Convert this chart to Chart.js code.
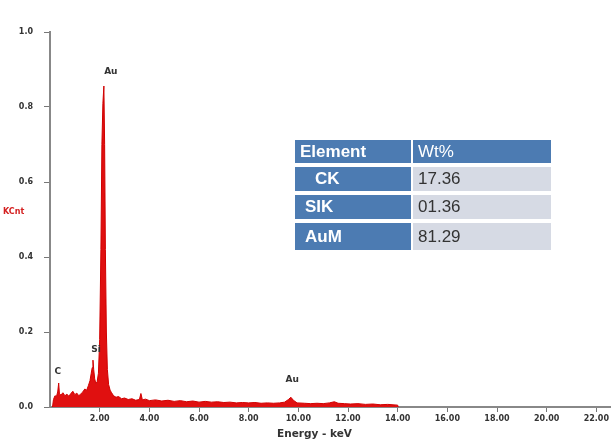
<!DOCTYPE html>
<html lang="en">
<head>
  <meta charset="UTF-8">
  <title>EDS spectrum</title>
  <script src="https://cdn.jsdelivr.net/npm/chart.js"></script>
  <style>
    body { margin: 0; background: #fff; }
    #wrap { position: relative; width: 611px; height: 441px; }
    #tbl { position: absolute; left: 295px; top: 140px; font-family: "Liberation Sans", Arial, sans-serif; font-size: 17px; }
    .row { display: flex; margin-bottom: 4px; }
    .el { width: 116px; background: #4c7bb2; color: #fff; font-weight: bold; padding-left: 5px; box-sizing: border-box; }
    .wt { width: 138px; margin-left: 2px; background: #d6dae4; color: #333; padding-left: 5px; box-sizing: border-box; }
    .head .wt { background: #4c7bb2; color: #fff; font-weight: normal; }
  </style>
</head>
<body>
<div id="wrap">
  <canvas id="eds" width="611" height="441"></canvas>
  <div id="tbl"></div>
</div>
<script>
// spectrum (keV, KCnt)
const energy = [0.10, 0.14, 0.20, 0.26, 0.31, 0.35, 0.38, 0.44, 0.52, 0.60, 0.68, 0.76, 0.84, 0.92, 1.00,
  1.08, 1.16, 1.24, 1.32, 1.40, 1.48, 1.55, 1.61, 1.66, 1.70, 1.73, 1.76, 1.80, 1.85, 1.90, 1.95,
  2.00, 2.05, 2.09, 2.13, 2.17, 2.20, 2.23, 2.27, 2.31, 2.36, 2.42, 2.48, 2.56, 2.66, 2.76, 2.88,
  3.00, 3.15, 3.30, 3.45, 3.60, 3.66, 3.72, 3.85, 4.00, 4.25, 4.50, 4.75, 5.00, 5.25, 5.50, 5.75,
  6.00, 6.25, 6.50, 6.75, 7.00, 7.25, 7.50, 7.75, 8.00, 8.25, 8.50, 8.75, 9.00, 9.25, 9.45, 9.60,
  9.70, 9.80, 9.95, 10.25, 10.50, 10.75, 11.00, 11.25, 11.45, 11.60, 11.85, 12.10, 12.40, 12.70,
  13.00, 13.30, 13.60, 14.00, 14.02];
const kcnt = [0.000, 0.020, 0.030, 0.028, 0.040, 0.064, 0.035, 0.032, 0.038, 0.030, 0.034, 0.029, 0.036, 0.042, 0.033,
  0.037, 0.030, 0.035, 0.040, 0.048, 0.045, 0.058, 0.070, 0.090, 0.105, 0.125, 0.100, 0.075, 0.062, 0.068, 0.090,
  0.180, 0.420, 0.700, 0.810, 0.856, 0.700, 0.420, 0.200, 0.100, 0.060, 0.045, 0.038, 0.030, 0.026, 0.028, 0.022,
  0.024, 0.020, 0.022, 0.018, 0.020, 0.036, 0.019, 0.021, 0.017, 0.019, 0.016, 0.018, 0.015, 0.017, 0.014, 0.016,
  0.013, 0.015, 0.013, 0.014, 0.012, 0.013, 0.011, 0.012, 0.011, 0.012, 0.010, 0.011, 0.010, 0.011, 0.013, 0.020,
  0.026, 0.018, 0.011, 0.010, 0.009, 0.010, 0.009, 0.011, 0.014, 0.010, 0.009, 0.008, 0.009, 0.007,
  0.008, 0.006, 0.007, 0.005, 0.000];

const peakNames = ['Au', 'Si', 'C', 'Au'];
const peakX = [2.45, 1.85, 0.31, 9.75];
const peakY = [0.895, 0.152, 0.093, 0.072];

const xTicks = [2, 4, 6, 8, 10, 12, 14, 16, 18, 20, 22];

const elements = ['CK', 'SIK', 'AuM'];
const wtPct = ['17.36', '01.36', '81.29'];

// table
const tbl = document.getElementById('tbl');
let html = '<div class="row head" style="height:23px;line-height:23px"><div class="el">Element</div><div class="wt">Wt%</div></div>';
elements.forEach((e, i) => {
  html += '<div class="row" style="height:' + (i == 2 ? 27 : 24) + 'px;line-height:' + (i == 2 ? 27 : 24) +
    'px"><div class="el" style="padding-left:' + (i == 0 ? 20 : 10) + 'px">' + e + '</div><div class="wt">' + wtPct[i] + '</div></div>';
});
tbl.innerHTML = html;

const labels = {
  id: 'labels',
  afterDatasetsDraw(c) {
    const g = c.ctx, x = c.scales.x, y = c.scales.y;
    g.save();
    g.fillStyle = '#333';
    g.font = 'bold 9px "DejaVu Sans"';
    g.textAlign = 'center';
    g.textBaseline = 'middle';
    peakNames.forEach((n, i) => g.fillText(n, x.getPixelForValue(peakX[i]), y.getPixelForValue(peakY[i])));
    // x axis title sits left of centre in the original
    g.font = 'bold 10.5px "DejaVu Sans"';
    g.fillText('Energy - keV', x.getPixelForValue(10.65), 434);
    g.fillStyle = '#d42020';
    g.font = 'bold 8px "DejaVu Sans"';
    g.textAlign = 'left';
    g.fillText('KCnt', 3, y.getPixelForValue(0.52));
    g.restore();
  }
};

new Chart(document.getElementById('eds'), {
  type: 'line',
  data: {
    datasets: [{
      data: energy.map((e, i) => ({ x: e, y: kcnt[i] })),
      borderColor: '#d00000',
      backgroundColor: '#e01010',
      borderWidth: 1,
      pointRadius: 0,
      fill: 'origin',
      tension: 0
    }]
  },
  options: {
    responsive: false,
    animation: false,
    layout: { padding: { top: 32, right: 0, left: 0, bottom: 0 } },
    plugins: { legend: { display: false }, tooltip: { enabled: false } },
    scales: {
      x: {
        type: 'linear', min: 0, max: 22.55,
        afterFit: s => { s.height = 34; },
        afterBuildTicks: s => { s.ticks = xTicks.map(v => ({ value: v })); },
        grid: { display: true, drawOnChartArea: false, tickLength: 5, color: '#777', tickColor: '#777' },
        border: { color: '#888', width: 2 },
        ticks: {
          padding: 2, color: '#333', font: { family: 'DejaVu Sans', size: 8, weight: 'bold' },
          callback: v => v.toFixed(2), maxRotation: 0, autoSkip: false
        }
      },
      y: {
        min: 0, max: 1.0,
        afterFit: s => { s.width = 50; },
        grid: { display: true, drawOnChartArea: false, tickLength: 6, color: '#777', tickColor: '#777' },
        border: { color: '#888', width: 2 },
        ticks: { stepSize: 0.2, padding: 11, color: '#333', font: { family: 'DejaVu Sans', size: 8, weight: 'bold' },
          callback: v => v.toFixed(1) }
      }
    }
  },
  plugins: [labels]
});
</script>
</body>
</html>
